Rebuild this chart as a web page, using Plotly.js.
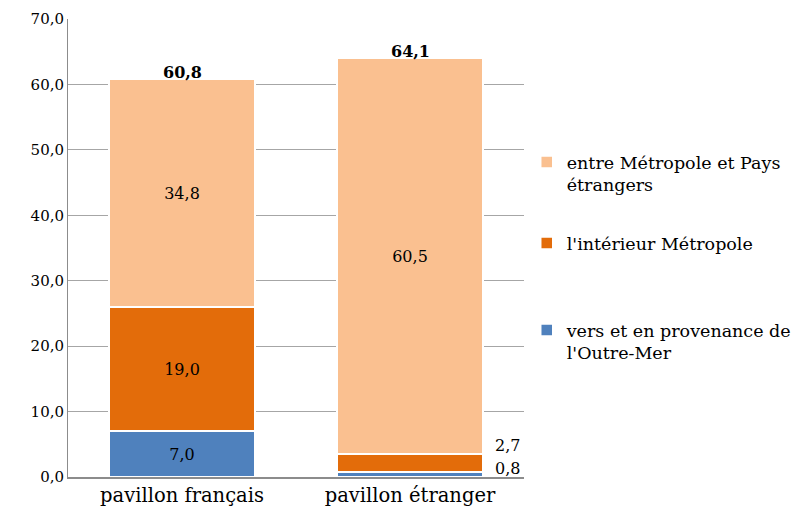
<!DOCTYPE html>
<html><head><meta charset="utf-8">
<script src="https://cdn.plot.ly/plotly-3.0.1.min.js"></script>
<style>body{margin:0;background:#fff}#c{width:795px;height:520px}</style>
</head><body><div id="c"></div>
<script>
const categories = ['pavillon français', 'pavillon étranger'];
const outreMer = [7.0, 0.8];
const interieur = [19.0, 2.7];
const entre = [34.8, 60.5];
const totals = [60.8, 64.1];
const seriesNames = ['vers et en provenance de<br>l\'Outre-Mer', 'l\'intérieur Métropole', 'entre Métropole et Pays<br>étrangers'];
const yTicks = [0, 10, 20, 30, 40, 50, 60, 70];

const FONT = 'DejaVu Serif';
const colors = ['#4F81BD', '#E36C0A', '#FAC090'];
const vals = [outreMer, interieur, entre];
const insideMin = 5;
const legendIds = ['legend3', 'legend2', 'legend'];

const traces = vals.map((v, i) => ({
  type: 'bar', x: categories, y: v, name: seriesNames[i],
  legend: legendIds[i],
  marker: {color: colors[i], line: {color: '#ffffff', width: 1.5}},
  texttemplate: v.map(val => val >= insideMin ? '%{y:.1f}' : ''),
  textposition: 'inside', insidetextanchor: 'middle',
  textfont: {family: FONT, size: 16, color: '#000'},
  hoverinfo: 'skip'
}));

const annotations = [];
totals.forEach((t, i) => annotations.push({
  x: categories[i], y: t, xref: 'x', yref: 'y', text: '<b>' + t.toFixed(1).replace('.', ',') + '</b>',
  showarrow: false, yanchor: 'bottom', yshift: -5, font: {family: FONT, size: 16, color: '#000'}
}));
categories.forEach((c, i) => {
  let cum = 0;
  vals.forEach((v, k) => {
    cum += v[i];
    if (v[i] < insideMin) {
      annotations.push({
        x: c, y: cum, xref: 'x', yref: 'y', text: v[i].toFixed(1).replace('.', ','),
        showarrow: false, xanchor: 'center', yanchor: 'middle', xshift: 97, yshift: k === 0 ? 3 : 9,
        font: {family: FONT, size: 16, color: '#000'}
      });
    }
  });
});

const legFont = {family: FONT, size: 17.5, color: '#000'};
const legBase = {x: 1.006, xanchor: 'left', yanchor: 'top', valign: 'top', font: legFont, itemwidth: 30, bgcolor: 'rgba(0,0,0,0)'};
const pxToY = p => (477 - p) / 458;

const layout = {
  width: 795, height: 520,
  margin: {l: 68, r: 271, t: 19, b: 43, autoexpand: false},
  paper_bgcolor: '#fff', plot_bgcolor: '#fff',
  barmode: 'stack', bargap: 0.36,
  separators: ', ',
  font: {family: FONT, size: 16, color: '#000'},
  xaxis: {showline: true, linecolor: '#8c8c8c', linewidth: 2, ticks: '', tickfont: {family: FONT, size: 19.5}, fixedrange: true},
  yaxis: {range: [0, 70], tickvals: yTicks, tickformat: '.1f', showgrid: true, gridcolor: '#a6a6a6', gridwidth: 1,
          showline: true, linecolor: '#8c8c8c', linewidth: 1, zeroline: false, ticks: '', ticklen: 0,
          tickfont: {family: FONT, size: 15}, fixedrange: true},
  legend: Object.assign({}, legBase, {y: pxToY(144)}),
  legend2: Object.assign({}, legBase, {y: pxToY(225)}),
  legend3: Object.assign({}, legBase, {y: pxToY(312)}),
  annotations: annotations,
  showlegend: true
};
Plotly.newPlot('c', traces, layout, {displayModeBar: false, staticPlot: true});
</script></body></html>
